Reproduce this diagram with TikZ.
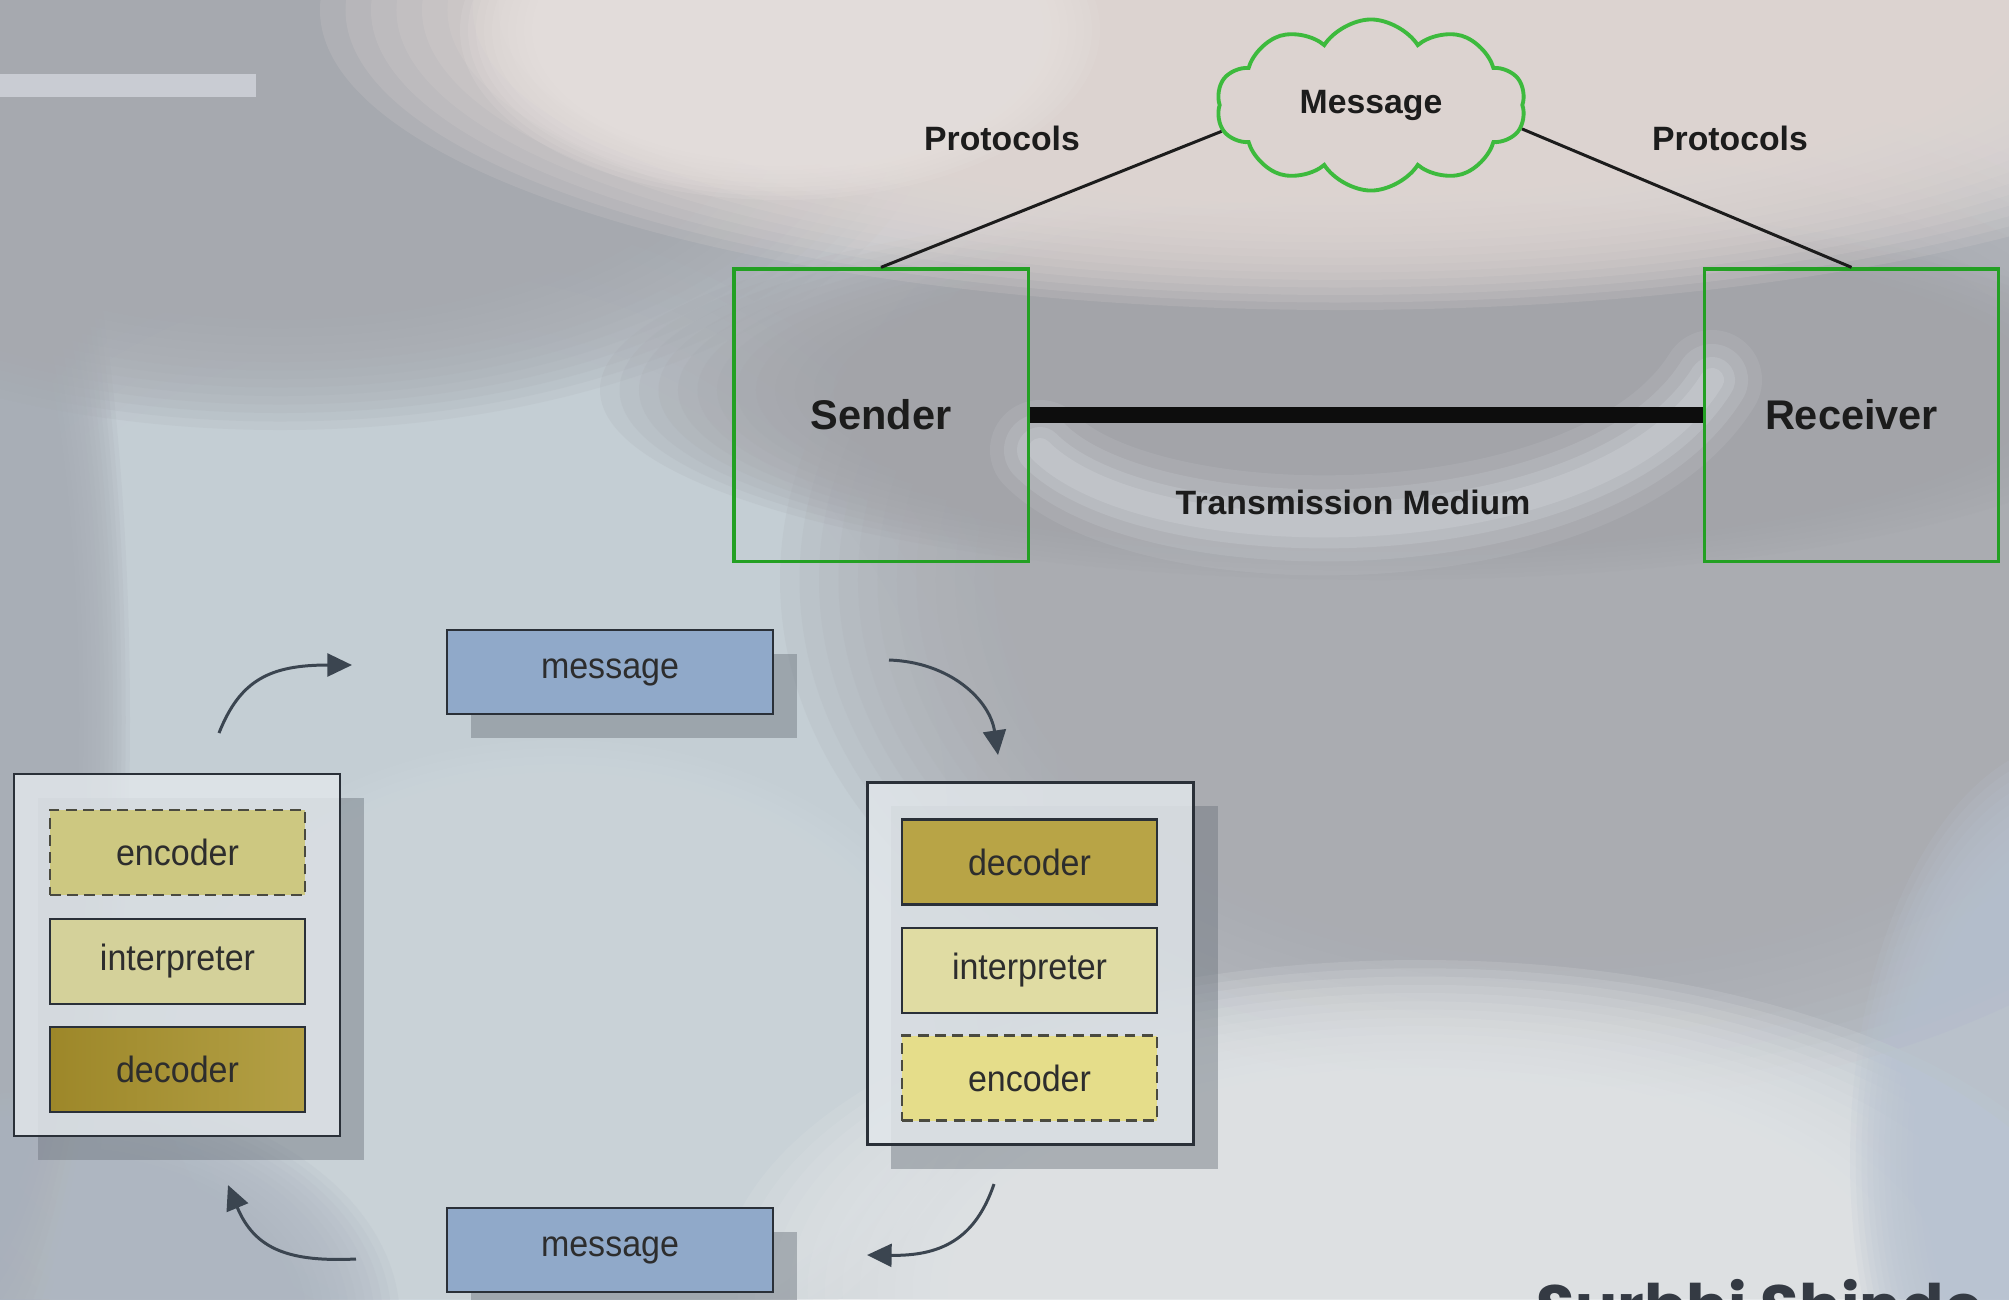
\documentclass[tikz,border=0pt]{standalone}
\usepackage{fontspec}
\setmainfont{Liberation Sans}
\newfontfamily\boxfont{Liberation Sans}[FakeStretch=0.93]
\newfontfamily\signfont{Poppins}
\usetikzlibrary{shapes.symbols,shadows,arrows.meta}

% backdrop tones
\definecolor{bgbase}{HTML}{B9C1C9}
\definecolor{bglight}{HTML}{CAD4DA}
\definecolor{bglighter}{HTML}{CFD8DD}
\definecolor{bgedge}{HTML}{A8AEB6}
\definecolor{bgcorner}{HTML}{AEB6C1}
\definecolor{bgslate}{HTML}{AAACB1}
\definecolor{bgdark}{HTML}{A3A4A9}
\definecolor{bgtopleft}{HTML}{A6A9AF}
\definecolor{bgpink}{HTML}{E2D9D6}
\definecolor{bgpinklight}{HTML}{E8E2E0}
\definecolor{bgstrip}{HTML}{C9CCD3}
\definecolor{bgarc}{HTML}{D5D8DD}
\definecolor{bgpale}{HTML}{E3E6E8}
\definecolor{bgblue}{HTML}{B9C3D1}
% diagram colours
\definecolor{boxgreen}{HTML}{23A023}
\definecolor{cloudgreen}{HTML}{3DBA3D}
\definecolor{inkdark}{HTML}{1C1C1C}
\definecolor{msgblue}{HTML}{90A9C9}
\definecolor{boxline}{HTML}{2A3038}
\definecolor{panelfill}{HTML}{E1E6EA}
\definecolor{shadowgray}{HTML}{6C747D}
\definecolor{decdark}{HTML}{9D8729}
\definecolor{declight}{HTML}{B3A045}
\definecolor{decR}{HTML}{B8A446}
\definecolor{intL}{HTML}{D4D19A}
\definecolor{intR}{HTML}{E0DCA3}
\definecolor{encL}{HTML}{CDC881}
\definecolor{encR}{HTML}{E5DD8A}
\definecolor{dashline}{HTML}{4A4A40}
\definecolor{arrowink}{HTML}{3B4550}
\definecolor{signink}{HTML}{343A43}
\definecolor{textink}{HTML}{2D2D2D}

% soft-edged patch of colour: stacked translucent ellipses
% #1 colour, #2 centre, #3 x radius, #4 y radius
\newcommand\softspot[4]{%
  \foreach \k in {0,...,19}{%
    \fill[#1, opacity=0.16] (#2) ellipse ({#3*(1-0.025*\k)} and {#4*(1-0.025*\k)});%
  }%
}

\tikzset{
  greenbox/.style={draw=boxgreen, line width=0.9pt, minimum width=2.94cm, minimum height=2.92cm, inner sep=0pt},
  toplabel/.style={text=inkdark, font=\fontsize{9.6}{11}\selectfont\bfseries, inner sep=0pt},
  biglabel/.style={text=inkdark, font=\fontsize{11.8}{14}\selectfont\bfseries, inner sep=0pt},
  protoline/.style={draw=inkdark, line width=0.85pt},
  casing/.style={draw=boxline, line width=0.75pt, inner sep=0pt,
    drop shadow={shadow xshift=0.24cm, shadow yshift=-0.24cm, fill=shadowgray, opacity=0.45}},
  msgbox/.style={casing, fill=msgblue, minimum width=3.26cm, minimum height=0.84cm,
    text=textink, font=\boxfont\fontsize{10.4}{12}\selectfont},
  panel/.style={casing, fill=panelfill, fill opacity=0.85, minimum width=3.26cm, minimum height=3.62cm},
  unit/.style={draw=boxline, line width=0.75pt, minimum width=2.55cm, minimum height=0.85cm,
    inner sep=0pt, text=textink, font=\boxfont\fontsize{10.4}{12}\selectfont},
  dashunit/.style={unit, draw=dashline, dash pattern=on 3.1pt off 1.8pt},
  flowarrow/.style={draw=arrowink, line width=0.85pt, -{Triangle[length=7pt,width=6.5pt]}},
  rim/.style={bgarc, line cap=round},
}

\begin{document}
\begin{tikzpicture}[x=0.01cm, y=-0.01cm]
\useasboundingbox (0,0) rectangle (2009,1299);
\clip (0,0) rectangle (2009,1299);

% ---------- backdrop ----------
\fill[bgbase] (0,0) rectangle (2009,1299);
\softspot{bglight}{420,830}{640}{620}
\softspot{bglighter}{560,1060}{420}{320}
\softspot{bgedge}{-40,720}{170}{760}
\softspot{bgcorner}{60,1320}{340}{230}
\softspot{bgslate}{1560,580}{780}{520}
\softspot{bgdark}{1380,390}{780}{190}
\softspot{bgtopleft}{280,90}{660}{340}
\softspot{bgpink}{1340,10}{1020}{300}
\softspot{bgpinklight}{780,30}{320}{170}
\fill[bgstrip] (0,74) rectangle (256,97);
% pale rim under the medium line
\foreach \w/\o in {1.0/0.12, 0.72/0.18, 0.46/0.24, 0.24/0.3}{
  \draw[rim, line width=\w cm, opacity=\o]
    (1040,450) .. controls (1150,560) and (1600,560) .. (1712,380);
}
\softspot{bgpale}{1420,1290}{700}{330}
\softspot{bgblue}{2080,1160}{230}{420}

% ---------- sender / receiver ----------
\node[greenbox] (snd) at (881,415) {};
\node[greenbox] (rcv) at (1851.5,415) {};
\node[biglabel] at (snd.center) {Sender};
\node[biglabel] at (rcv.center) {Receiver};
\node[cloud, cloud puffs=10, cloud puff arc=115, cloud ignores aspect,
      minimum width=3.09cm, minimum height=1.71cm, inner sep=0pt,
      draw=cloudgreen, line width=1.1pt, toplabel] (msgcloud) at (1371,105) {Message};
\draw[protoline] (snd.north) -- (msgcloud.190);
\draw[protoline] (msgcloud.-9) -- (rcv.north);
\draw[draw=black!95, line width=4.7pt] (snd.east) -- (rcv.west);
\node[toplabel] (protoL) at (1002,138) {Protocols};
\node[toplabel] (protoR) at (1730,138) {Protocols};
\node[toplabel] (medium) at (1353,502) {Transmission Medium};

% ---------- exchange cycle ----------
\node[msgbox] (msgtop) at (610,672) {message};
\node[msgbox] (msgbot) at (610,1250) {message};

\node[panel] (left) at (177,955) {};
\node[dashunit, fill=encL] (encL) at (177.5,852.5) {encoder};
\node[unit, fill=intL] (intL) at (177.5,961.5) {interpreter};
\node[unit, left color=decdark, right color=declight] (decL) at (177.5,1069.5) {decoder};

\node[panel] (right) at (1030.5,963.5) {};
\node[unit, fill=decR] (decR) at (1029.5,862) {decoder};
\node[unit, fill=intR] (intR) at (1029.5,970.5) {interpreter};
\node[dashunit, fill=encR] (encR) at (1029.5,1078) {encoder};

\coordinate (a1s) at (219,733);  \coordinate (a1e) at (352,665);
\coordinate (a2s) at (889,660);  \coordinate (a2e) at (998,755);
\coordinate (a3s) at (994,1184); \coordinate (a3e) at (867,1255);
\coordinate (a4s) at (356,1259); \coordinate (a4e) at (228,1185);
\draw[flowarrow] (a1s) .. controls (240,680) and (270,665) .. (a1e);
\draw[flowarrow] (a2s) .. controls (950,662) and (990,700) .. (a2e);
\draw[flowarrow] (a3s) .. controls (975,1240) and (940,1256) .. (a3e);
\draw[flowarrow] (a4s) .. controls (290,1262) and (255,1250) .. (a4e);

% ---------- signature ----------
\node[anchor=base west, inner sep=0pt, text=signink,
      font=\signfont\bfseries\fontsize{17.8}{20}\selectfont] (sign) at (1536,1329) {Surbhi Shinde};
\end{tikzpicture}
\end{document}
